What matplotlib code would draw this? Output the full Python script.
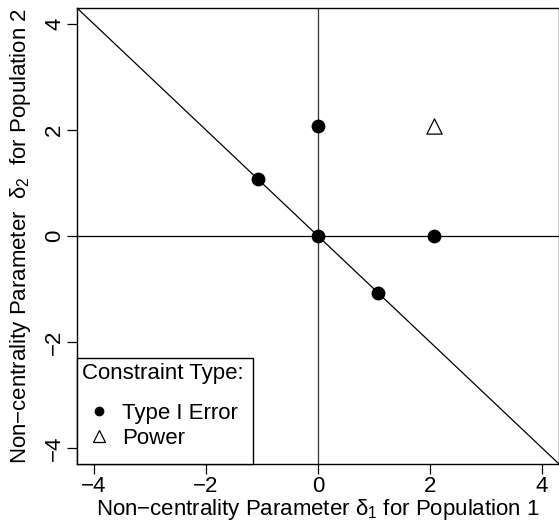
import matplotlib
matplotlib.use("Agg")
import matplotlib.pyplot as plt
from matplotlib.lines import Line2D

plt.rcParams['font.family'] = ['Liberation Sans', 'DejaVu Sans']
plt.rcParams['mathtext.fontset'] = 'custom'
plt.rcParams['mathtext.rm'] = 'Liberation Sans'
plt.rcParams['mathtext.it'] = 'Liberation Sans'
plt.rcParams['axes.unicode_minus'] = True

# constraint points
type1_x = [0.0, 0.0, -1.07, 1.07, 2.07]
type1_y = [0.0, 2.07, 1.07, -1.07, 0.0]
power_x = [2.07]
power_y = [2.07]

ticks = [-4, -2, 0, 2, 4]
tick_labels = ["\u22124", "\u22122", "0", "2", "4"]
lim = 4.3
fs = 16

fig = plt.figure(figsize=(5.59, 5.21), dpi=100)
ax = fig.add_axes([77 / 559, 57 / 521, 482 / 559, 456 / 521])

ax.axhline(0, color='black', lw=0.9, zorder=1)
ax.axvline(0, color='#333333', lw=0.9, zorder=1)
ax.plot([-lim, lim], [lim, -lim], color='black', lw=0.9, zorder=1)

ax.scatter(type1_x, type1_y, s=80, color='black', zorder=3)
ax.scatter(power_x, power_y, s=120, marker='^', facecolor='white',
           edgecolor='black', linewidth=0.9, zorder=3)

ax.set_xlim(-lim, lim)
ax.set_ylim(-lim, lim)
ax.set_xticks(ticks)
ax.set_xticklabels(tick_labels, fontsize=fs)
ax.set_yticks(ticks)
ax.set_yticklabels(tick_labels, fontsize=fs, rotation=90, va='center')
ax.tick_params(length=7, width=0.9, pad=1.5)
for s in ax.spines.values():
    s.set_linewidth(1.0)

ax.set_xlabel("Non\u2212centrality Parameter $\\delta_1$ for Population 1",
              fontsize=fs, labelpad=0)
ax.set_ylabel("Non\u2212centrality Parameter  $\\delta_2$  for Population 2",
              fontsize=fs, labelpad=8)

handles = [
    Line2D([], [], ls='none', marker='o', color='black', markersize=6),
    Line2D([], [], ls='none', marker='^', markerfacecolor='white',
           markeredgecolor='black', markersize=9, markeredgewidth=0.9),
]
leg = ax.legend(handles, ["Type I Error", "Power"], title="Constraint Type:",
                loc='lower left', bbox_to_anchor=(0, 0), borderaxespad=0,
                fontsize=fs, title_fontsize=fs, alignment='left',
                fancybox=False, framealpha=1, edgecolor='black',
                handlelength=0.63, handletextpad=0.72, labelspacing=0.2,
                borderpad=0.225)
leg.get_frame().set_linewidth(1.0)
# entries are indented and padded below, gap after the title
leg._legend_handle_box.pad = 7.2
leg._legend_box.sep = 0.4 * fs

fig.savefig("out.png", dpi=100)
